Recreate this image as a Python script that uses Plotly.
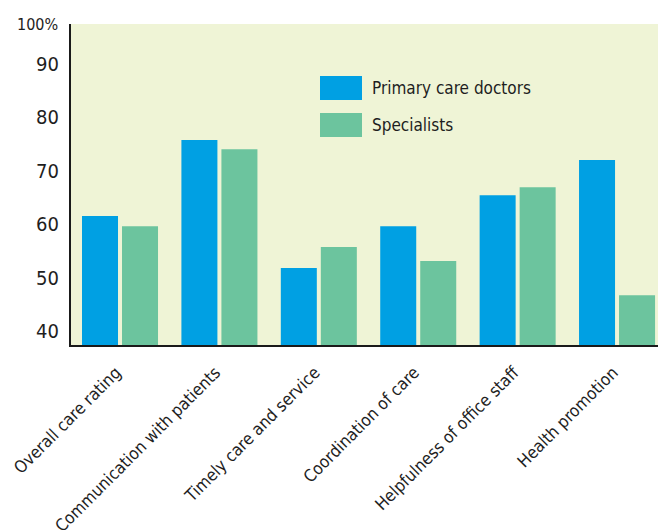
import plotly.graph_objects as go

categories = [
    "Overall care rating",
    "Communication with patients",
    "Timely care and service",
    "Coordination of care",
    "Helpfulness of office staff",
    "Health promotion",
]
primary_care = [64.1, 78.3, 54.4, 62.2, 68.0, 74.6]
specialists = [62.2, 76.6, 58.3, 55.7, 69.5, 49.3]
y_ticks = [40, 50, 60, 70, 80, 90]
series_names = ["Primary care doctors", "Specialists"]

BLUE = "#00a0e3"
GREEN = "#6cc49e"
BG = "#eff4d6"
TEXT = "#1e1e1e"
FONT = "DejaVu Sans Condensed, Liberation Sans Narrow, sans-serif"

fig = go.Figure()
fig.add_trace(go.Bar(x=categories, y=primary_care, name=series_names[0],
                     marker=dict(color=BLUE, line=dict(width=0)), showlegend=False))
fig.add_trace(go.Bar(x=categories, y=specialists, name=series_names[1],
                     marker=dict(color=GREEN, line=dict(width=0)), showlegend=False))

L, T, R, B = 71, 24, 0, 185
W, H = 658, 530
pw, ph = W - L - R, H - T - B

def px(x):
    return (x - L) / pw

def py(y):
    return (T + ph - y) / ph

# custom legend
shapes = []
annotations = []
for i, (name, col) in enumerate(zip(series_names, [BLUE, GREEN])):
    y0 = 76 + i * 37
    shapes.append(dict(type="rect", xref="paper", yref="paper",
                       x0=px(320), x1=px(362), y0=py(y0 + 24), y1=py(y0),
                       fillcolor=col, line=dict(width=0)))
    annotations.append(dict(text=name, xref="paper", yref="paper",
                            x=px(370), y=py(y0 + 12), xanchor="left", yanchor="middle",
                            showarrow=False, font=dict(family=FONT, size=17, color=TEXT)))

annotations.append(dict(text="100%", xref="paper", yref="y", x=px(60), y=100,
                        xanchor="right", yanchor="middle", yshift=0, showarrow=False,
                        font=dict(family=FONT, size=16, color=TEXT)))

fig.update_layout(
    width=W, height=H,
    margin=dict(l=L, r=R, t=T, b=B, pad=0, autoexpand=False),
    paper_bgcolor="white",
    plot_bgcolor=BG,
    barmode="group",
    bargap=0.195,
    bargroupgap=0.1,
    font=dict(family=FONT, size=17, color=TEXT),
    shapes=shapes,
    annotations=annotations,
    showlegend=False,
)
fig.update_xaxes(
    range=[-0.493, 5.412],
    tickangle=-45,
    automargin=False,
    ticklabelstandoff=9,
    ticklabelshift=-4,
    showline=True, linewidth=2, linecolor="#1a1a1a",
    showgrid=False, ticks="",
    tickfont=dict(family=FONT, size=17, color=TEXT),
)
fig.update_yaxes(
    range=[40, 100],
    automargin=False,
    tickvals=y_ticks,
    ticktext=[str(v) for v in y_ticks],
    ticklabelposition="outside top",
    ticklabelstandoff=6,
    showline=True, linewidth=2, linecolor="#1a1a1a",
    showgrid=False, zeroline=False, ticks="",
    tickfont=dict(family=FONT, size=20, color=TEXT),
)

fig.write_html(
    "out.html",
    config={"displayModeBar": False},
    post_script="document.body.style.margin='0';document.body.style.overflow='hidden';",
)
